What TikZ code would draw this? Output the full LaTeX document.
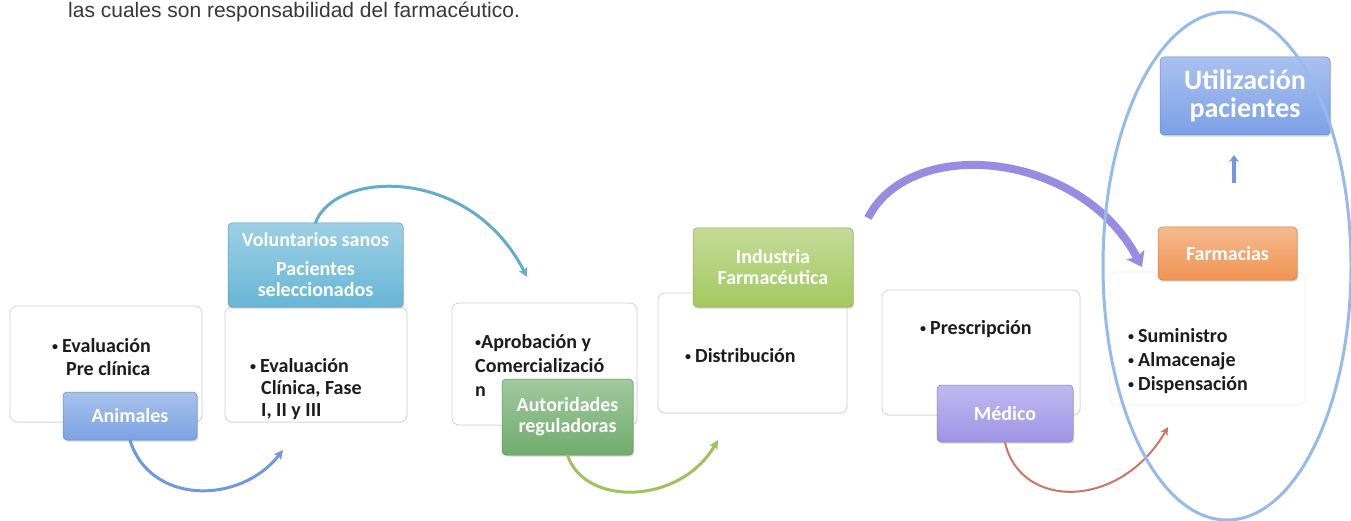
\documentclass[tikz,border=0pt]{standalone}
\usepackage{fontspec}
\setmainfont{Carlito}
\newfontfamily\arialf{Liberation Sans}
\usetikzlibrary{arrows.meta,shadows}
\definecolor{cAni}{RGB}{122,162,226}
\definecolor{cVol}{RGB}{104,182,214}
\definecolor{cAut}{RGB}{112,172,108}
\definecolor{cInd}{RGB}{164,200,96}
\definecolor{cMed}{RGB}{158,148,230}
\definecolor{cFar}{RGB}{240,148,82}
\definecolor{cUti}{RGB}{124,160,230}
\definecolor{cEll}{RGB}{150,186,235}
\definecolor{cArA}{RGB}{112,152,222}
\definecolor{cArB}{RGB}{98,172,204}
\definecolor{cArC}{RGB}{158,194,92}
\definecolor{cArP}{RGB}{150,140,226}
\definecolor{cArR}{RGB}{206,118,102}
\definecolor{cTxt}{RGB}{28,28,28}
\newcommand{\dotb}{\raisebox{1.3pt}{\fontsize{12}{12}\selectfont\textbullet}}
\newcommand{\blt}{\makebox[10pt][l]{\dotb}}
\begin{document}
\begin{tikzpicture}[x=1pt,y=-1pt,
  wbox/.style={draw=gray!35, line width=0.8pt, rounded corners=7pt, fill=white, inner sep=0pt,
    drop shadow={shadow xshift=0.6pt, shadow yshift=-0.8pt, opacity=0.12}},
  fbox/.style={draw=gray!12, line width=0.6pt, rounded corners=7pt, fill=white, inner sep=0pt},
  lbl/.style={rounded corners=4pt, inner sep=0pt, text=white, align=center,
    font=\bfseries\fontsize{20}{21}\selectfont, top color=#1!65!white, bottom color=#1,
    draw=#1!85!black, line width=0.5pt,
    drop shadow={shadow xshift=1.2pt, shadow yshift=-1.6pt, opacity=0.3}},
  txt/.style={anchor=base west, inner sep=0pt, text=cTxt, font=\bfseries\fontsize{20}{23}\selectfont},
  conn/.style={line cap=round}
]
\useasboundingbox (0,0) rectangle (1351,521);
\clip (0,0) rectangle (1351,521);
\fill[white] (0,0) rectangle (1351,521);

% heading fragment at the top edge
\node[anchor=base west, inner sep=0pt, text=black!78, font=\arialf\fontsize{21}{21}\selectfont] (head) at (68,18) {las cuales son responsabilidad del farmacéutico.};

% white content boxes
\node[wbox, minimum width=192pt, minimum height=116pt] (b1) at (106,364) {};
\node[wbox, minimum width=182pt, minimum height=115pt] (b2) at (316,364.5) {};
\node[wbox, minimum width=185pt, minimum height=122pt] (b3) at (544.5,364) {};
\node[wbox, minimum width=189pt, minimum height=120pt] (b4) at (752.5,353) {};
\node[wbox, minimum width=198pt, minimum height=125pt] (b5) at (981,352.5) {};
\node[fbox, minimum width=195pt, minimum height=133pt] (b6) at (1207.5,338.5) {};

% content texts
\node[txt] (t1a) at (52,352) {\blt Evaluación};
\node[txt] (t1b) at (66,375) {Pre clínica};
\node[txt] (t2a) at (250,372) {\blt Evaluación};
\node[txt] (t2b) at (261,394) {Clínica, Fase};
\node[txt] (t2c) at (261,416) {I, II y III};
\node[txt] (t3a) at (475,348) {\dotb Aprobación y};
\node[txt] (t3b) at (475,372) {Comercializació};
\node[txt] (t3c) at (475,396) {n};
\node[txt] (t4a) at (685,362) {\blt Distribución};
\node[txt] (t5a) at (920,334) {\blt Prescripción};
\node[txt] (t6a) at (1128,342) {\blt Suministro};
\node[txt] (t6b) at (1128,366) {\blt Almacenaje};
\node[txt] (t6c) at (1128,390) {\blt Dispensación};

% coloured labels
\node[lbl=cAni, minimum width=134pt, minimum height=48pt] (ani) at (130,416) {Animales};
\node[lbl=cVol, minimum width=175pt, minimum height=84pt] (vol) at (315.5,265) {Voluntarios sanos\\[8pt]Pacientes\\seleccionados};
\node[lbl=cAut, minimum width=131pt, minimum height=76pt] (aut) at (567.5,417) {Autoridades\\reguladoras};
\node[lbl=cInd, minimum width=160pt, minimum height=79pt] (ind) at (773,267.5) {Industria\\Farmacéutica};
\node[lbl=cMed, minimum width=136pt, minimum height=57pt] (med) at (1005,413.5) {Médico};
\node[lbl=cFar, minimum width=139pt, minimum height=53pt] (far) at (1227.5,253.5) {Farmacias};
\node[lbl=cUti, minimum width=170pt, minimum height=78pt, font=\bfseries\fontsize{28}{28}\selectfont] (uti) at (1245,96) {Utilización\\pacientes};

% connector end points
\coordinate (e1) at (283,450);
\coordinate (e2) at (527,277);
\coordinate (e3) at (718,440);
\coordinate (sp) at (868,218);
\coordinate (ep) at (1142,267);
\coordinate (e5) at (1168,427);
\coordinate (us) at (1234,183);
\coordinate (ue) at (1234,155);

% curved connectors
\draw[conn, draw=cArA, line width=3pt, -{Stealth[length=9pt,width=9pt,inset=2pt]}]
  (ani.south) .. controls (150,505) and (240,505) .. (e1);
\draw[conn, draw=cArB, line width=3pt, -{Stealth[length=9pt,width=9pt,inset=2pt]}]
  (vol.north) .. controls (335,170) and (470,165) .. (e2);
\draw[conn, draw=cArC, line width=3pt, -{Stealth[length=9pt,width=9pt,inset=2pt]}]
  (aut.south) .. controls (585,507) and (680,505) .. (e3);
\draw[conn, draw=cArP, line width=8pt, line cap=butt, -{Stealth[length=14pt,width=20pt,inset=3pt]}]
  (sp) .. controls (910,135) and (1080,150) .. (ep);
\draw[conn, draw=cArR, line width=2pt, -{Stealth[length=8pt,width=8pt,inset=2pt]}]
  (med.south) .. controls (1020,510) and (1120,510) .. (e5);
\draw[draw=cArA, line width=4pt, -{Stealth[length=7pt,width=10pt]}] (us) -- (ue);

% highlight ellipse
\draw[draw=cEll, line width=3pt] (1227,266) ellipse [x radius=124, y radius=254];
\end{tikzpicture}
\end{document}
